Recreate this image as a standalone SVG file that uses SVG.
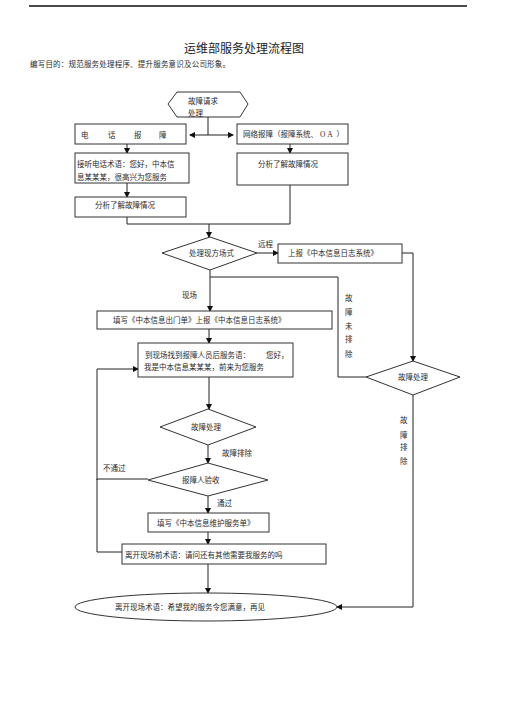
<svg xmlns="http://www.w3.org/2000/svg" width="505" height="714" viewBox="0 0 505 714">
<defs>
<marker id="ah" markerWidth="6" markerHeight="6" refX="5" refY="3" orient="auto" markerUnits="userSpaceOnUse">
<path d="M0,0 L6,3 L0,6 Z" fill="#111"/>
</marker>
<marker id="ahs" markerWidth="6" markerHeight="6" refX="1" refY="3" orient="auto" markerUnits="userSpaceOnUse">
<path d="M6,0 L0,3 L6,6 Z" fill="#111"/>
</marker>
</defs>
<style>
text{font-family:"Liberation Serif","Noto Sans CJK SC",serif;font-size:7.5px;fill:#2a2a2a}
.t{font-size:12px;fill:#222}
.shape{fill:#fff;stroke:#333;stroke-width:1}
.ln{fill:none;stroke:#222;stroke-width:1}
.ar{marker-end:url(#ah)}
</style>
<rect width="505" height="714" fill="#fff"/>
<line x1="29" y1="6" x2="467" y2="6" stroke="#111" stroke-width="1.5"/>
<text class="t" x="184" y="53">运维部服务处理流程图</text>
<text x="30" y="67" textLength="200" lengthAdjust="spacing">编写目的：规范服务处理程序、提升服务意识及公司形象。</text>

<g id="connectors">
<path class="ln" d="M208,117 V135"/>
<path class="ln" d="M190,135 H233" marker-start="url(#ahs)" marker-end="url(#ah)"/>
<path class="ln ar" d="M127,144 V153"/>
<path class="ln ar" d="M127,183 V197"/>
<path class="ln ar" d="M290,144 V153"/>
<path class="ln" d="M127,217 V224 H290 V185"/>
<path class="ln ar" d="M209,224 V237"/>
<path class="ln ar" d="M257,253 H278"/>
<path class="ln ar" d="M402,253 H413 V361"/>
<path class="ln ar" d="M210,270 V311"/>
<path class="ln" d="M210,277 H338 V377 H366"/>
<path class="ln ar" d="M209,329 V343"/>
<path class="ln ar" d="M209,377 V409"/>
<path class="ln ar" d="M208,445 V463"/>
<path class="ln ar" d="M208,496 V513"/>
<path class="ln ar" d="M208,532 V544"/>
<path class="ln ar" d="M208,564 V593"/>
<path class="ln" d="M148,479 H97 V552 H122"/>
<path class="ln ar" d="M97,480 V369 H138"/>
<path class="ln ar" d="M413,395 V607 H337"/>
<text x="258" y="247">远程</text>
<text x="182" y="298">现场</text>
<text x="345" y="301">故</text>
<text x="345" y="315">障</text>
<text x="345" y="329">未</text>
<text x="345" y="342">排</text>
<text x="345" y="357">除</text>
<text x="400" y="423">故</text>
<text x="400" y="438">障</text>
<text x="400" y="450">排</text>
<text x="400" y="464">除</text>
<text x="222" y="456">故障排除</text>
<text x="103" y="471">不通过</text>
<text x="217" y="506">通过</text>
</g>

<g id="n-start">
<polygon class="shape" points="168,104 177,92 240,92 248,104 240,117 177,117"/>
<text x="188" y="104">故障请求</text>
<text x="188" y="116">处理</text>
</g>

<g id="n-phone">
<rect class="shape" x="75" y="124" width="111" height="20"/>
<text x="81" y="138">电</text>
<text x="108" y="138">话</text>
<text x="134" y="138">报</text>
<text x="159" y="138">障</text>
</g>

<g id="n-net">
<rect class="shape" x="237" y="124" width="111" height="20"/>
<text x="243" y="137">网络报障（报障系统、 <tspan letter-spacing="2">OA</tspan> ）</text>
</g>

<g id="n-answer">
<rect class="shape" x="75" y="153" width="114" height="30"/>
<text x="77" y="167">接听电话术语：您好，中本信</text>
<text x="77" y="180">息某某某，很高兴为您服务</text>
</g>

<g id="n-analyze-left">
<rect class="shape" x="75" y="197" width="111" height="20"/>
<text x="95" y="208">分析了解故障情况</text>
</g>

<g id="n-analyze-right">
<rect class="shape" x="237" y="153" width="111" height="32" stroke-width="1.4"/>
<text x="258" y="167">分析了解故障情况</text>
</g>

<g id="n-mode">
<polygon class="shape" points="162,253 210,237 257,253 210,270"/>
<text x="189" y="256">处理现方场式</text>
</g>

<g id="n-report">
<rect class="shape" x="278" y="244" width="124" height="19"/>
<text x="288" y="256">上报《中本信息日志系统》</text>
</g>

<g id="n-remote-fix">
<polygon class="shape" points="366,377 413,361 460,377 413,395"/>
<text x="398" y="380">故障处理</text>
</g>

<g id="n-outform">
<rect class="shape" x="97" y="311" width="235" height="18"/>
<text x="113" y="323">填写《中本信息出门单》上报《中本信息日志系统》</text>
</g>

<g id="n-onsite">
<rect class="shape" x="138" y="343" width="155" height="34"/>
<text x="145" y="358">到现场找到报障人员后服务语：</text>
<text x="266" y="358">您好，</text>
<text x="144" y="370">我是中本信息某某某，前来为您服务</text>
</g>

<g id="n-fix">
<polygon class="shape" points="160,427 208,409 256,427 208,445"/>
<text x="191" y="430">故障处理</text>
</g>

<g id="n-accept">
<polygon class="shape" points="148,480 208,463 268,480 208,496"/>
<text x="182" y="483">报障人验收</text>
</g>

<g id="n-maint">
<rect class="shape" x="148" y="513" width="121" height="19"/>
<text x="157" y="526">填写《中本信息维护服务单》</text>
</g>

<g id="n-leave-ask">
<rect class="shape" x="122" y="544" width="204" height="20"/>
<text x="125" y="558">离开现场前术语：请问还有其他需要我服务的吗</text>
</g>

<g id="n-end">
<ellipse class="shape" cx="206" cy="607" rx="131" ry="14"/>
<text x="115" y="610">离开现场术语：希望我的服务令您满意，再见</text>
</g>
</svg>
